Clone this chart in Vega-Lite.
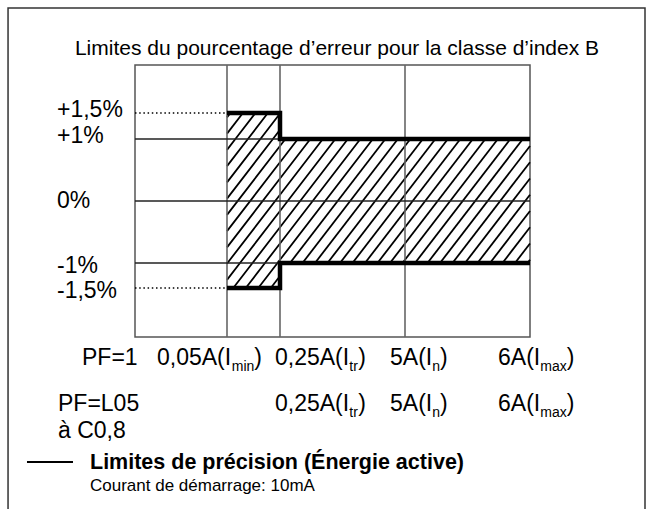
{
  "$schema": "https://vega.github.io/schema/vega-lite/v6.json",
  "width": 395,
  "height": 272,
  "autosize": {"type": "none"},
  "padding": {"left": 135, "top": 65, "right": 122, "bottom": 172},
  "background": "white",
  "config": {
    "view": {"stroke": "#555", "strokeWidth": 1.5},
    "font": "Liberation Sans"
  },
  "datasets": {
    "frame": [{"u": -1.38, "u2": 4.92, "pct": 3.031, "pct2": -4.814}],
    "title": [{"t": "Limites du pourcentage d’erreur pour la classe d’index B", "u": 2.456, "pct": 2.346}],
    "vgrid": [
      {"u": 1, "u2": 1, "pct": -2.2, "pct2": 2.2},
      {"u": 2, "u2": 2, "pct": -2.2, "pct2": 2.2},
      {"u": 3, "u2": 3, "pct": -2.2, "pct2": 2.2}
    ],
    "hgrid": [
      {"u": 0, "u2": 4, "pct": 1, "pct2": 1},
      {"u": 0, "u2": 4, "pct": 0, "pct2": 0},
      {"u": 0, "u2": 4, "pct": -1, "pct2": -1}
    ],
    "dotted": [
      {"u": 0, "u2": 1, "pct": 1.5, "pct2": 1.5},
      {"u": 0, "u2": 1, "pct": -1.5, "pct2": -1.5}
    ],
    "limits": [
      {"side": "up", "o": 1, "u": 1, "pct": 1.5},
      {"side": "up", "o": 2, "u": 2, "pct": 1.5},
      {"side": "up", "o": 3, "u": 2, "pct": 1},
      {"side": "up", "o": 4, "u": 4, "pct": 1},
      {"side": "low", "o": 1, "u": 1, "pct": -1.5},
      {"side": "low", "o": 2, "u": 2, "pct": -1.5},
      {"side": "low", "o": 3, "u": 2, "pct": -1},
      {"side": "low", "o": 4, "u": 4, "pct": -1}
    ],
    "hatch": [
      {"h": "a", "u": 1, "pct": 1.415}, {"h": "a", "u": 1.064, "pct": 1.5},
      {"h": "b", "u": 1, "pct": 1.103}, {"h": "b", "u": 1.3, "pct": 1.5},
      {"h": "c", "u": 1, "pct": 0.824}, {"h": "c", "u": 1.158, "pct": 1}, {"h": "c", "u": 1.535, "pct": 1.5},
      {"h": "d", "u": 1, "pct": 0.562}, {"h": "d", "u": 1.394, "pct": 1}, {"h": "d", "u": 1.771, "pct": 1.5},
      {"h": "e", "u": 1, "pct": 0.3}, {"h": "e", "u": 1.63, "pct": 1}, {"h": "e", "u": 2, "pct": 1.49},
      {"h": "f", "u": 1, "pct": 0.038}, {"h": "f", "u": 1.866, "pct": 1}, {"h": "f", "u": 2, "pct": 1.178},
      {"h": "g", "u": 1, "pct": -0.224}, {"h": "g", "u": 2, "pct": 0.887}, {"h": "g", "u": 2.043, "pct": 1},
      {"h": "h", "u": 1, "pct": -0.486}, {"h": "h", "u": 2, "pct": 0.625}, {"h": "h", "u": 2.143, "pct": 1},
      {"h": "i", "u": 1, "pct": -0.748}, {"h": "i", "u": 2, "pct": 0.363}, {"h": "i", "u": 2.243, "pct": 1},
      {"h": "j", "u": 1, "pct": -1.013}, {"h": "j", "u": 1.009, "pct": -1}, {"h": "j", "u": 2, "pct": 0.101}, {"h": "j", "u": 2.343, "pct": 1},
      {"h": "k", "u": 1, "pct": -1.338}, {"h": "k", "u": 1.245, "pct": -1}, {"h": "k", "u": 2, "pct": -0.161}, {"h": "k", "u": 2.443, "pct": 1},
      {"h": "l", "u": 1.118, "pct": -1.5}, {"h": "l", "u": 1.481, "pct": -1}, {"h": "l", "u": 2, "pct": -0.423}, {"h": "l", "u": 2.543, "pct": 1},
      {"h": "m", "u": 1.354, "pct": -1.5}, {"h": "m", "u": 1.717, "pct": -1}, {"h": "m", "u": 2, "pct": -0.685}, {"h": "m", "u": 2.643, "pct": 1},
      {"h": "n", "u": 1.59, "pct": -1.5}, {"h": "n", "u": 1.953, "pct": -1}, {"h": "n", "u": 2, "pct": -0.948}, {"h": "n", "u": 2.743, "pct": 1},
      {"h": "o", "u": 1.826, "pct": -1.5}, {"h": "o", "u": 2, "pct": -1.26},
      {"h": "p", "u": 2.08, "pct": -1}, {"h": "p", "u": 2.843, "pct": 1},
      {"h": "q", "u": 2.18, "pct": -1}, {"h": "q", "u": 2.943, "pct": 1},
      {"h": "r", "u": 2.28, "pct": -1}, {"h": "r", "u": 3.043, "pct": 1},
      {"h": "s", "u": 2.38, "pct": -1}, {"h": "s", "u": 3.143, "pct": 1},
      {"h": "t", "u": 2.48, "pct": -1}, {"h": "t", "u": 3.243, "pct": 1},
      {"h": "u", "u": 2.58, "pct": -1}, {"h": "u", "u": 3.343, "pct": 1},
      {"h": "v", "u": 2.68, "pct": -1}, {"h": "v", "u": 3.443, "pct": 1},
      {"h": "w", "u": 2.78, "pct": -1}, {"h": "w", "u": 3.543, "pct": 1},
      {"h": "x", "u": 2.88, "pct": -1}, {"h": "x", "u": 3.643, "pct": 1},
      {"h": "y", "u": 2.98, "pct": -1}, {"h": "y", "u": 3.743, "pct": 1},
      {"h": "z", "u": 3.08, "pct": -1}, {"h": "z", "u": 3.843, "pct": 1},
      {"h": "A", "u": 3.18, "pct": -1}, {"h": "A", "u": 3.943, "pct": 1},
      {"h": "B", "u": 3.28, "pct": -1}, {"h": "B", "u": 4, "pct": 0.887},
      {"h": "C", "u": 3.38, "pct": -1}, {"h": "C", "u": 4, "pct": 0.625},
      {"h": "D", "u": 3.48, "pct": -1}, {"h": "D", "u": 4, "pct": 0.363},
      {"h": "E", "u": 3.58, "pct": -1}, {"h": "E", "u": 4, "pct": 0.101},
      {"h": "F", "u": 3.68, "pct": -1}, {"h": "F", "u": 4, "pct": -0.161},
      {"h": "G", "u": 3.78, "pct": -1}, {"h": "G", "u": 4, "pct": -0.423},
      {"h": "H", "u": 3.88, "pct": -1}, {"h": "H", "u": 4, "pct": -0.685},
      {"h": "I", "u": 3.98, "pct": -1}, {"h": "I", "u": 4, "pct": -0.948}
    ],
    "ylabels": [
      {"t": "+1,5%", "u": -0.848, "pct": 1.5, "g": "pos"},
      {"t": "+1%", "u": -0.848, "pct": 1, "g": "pos"},
      {"t": "0%", "u": -0.848, "pct": 0, "g": "zero"},
      {"t": "-1%", "u": -0.848, "pct": -1, "g": "neg"},
      {"t": "-1,5%", "u": -0.848, "pct": -1.5, "g": "neg"}
    ],
    "xlabels": [
      {"t": "PF=1", "u": -0.576, "pct": -2.6, "k": "m"},
      {"t": "0,05A(I", "u": 0.239, "pct": -2.6, "k": "m"},
      {"t": "min", "u": 1.089, "pct": -2.686, "k": "s"},
      {"t": ")", "u": 1.515, "pct": -2.6, "k": "m"},
      {"t": "0,25A(I", "u": 1.906, "pct": -2.6, "k": "m"},
      {"t": "tr", "u": 2.554, "pct": -2.686, "k": "s"},
      {"t": ")", "u": 2.626, "pct": -2.6, "k": "m"},
      {"t": "5A(I", "u": 2.88, "pct": -2.6, "k": "m"},
      {"t": "n", "u": 3.218, "pct": -2.686, "k": "s"},
      {"t": ")", "u": 3.28, "pct": -2.6, "k": "m"},
      {"t": "6A(I", "u": 3.744, "pct": -2.6, "k": "m"},
      {"t": "max", "u": 4.082, "pct": -2.686, "k": "s"},
      {"t": ")", "u": 4.293, "pct": -2.6, "k": "m"},
      {"t": "PF=L05", "u": -0.837, "pct": -3.257, "k": "m"},
      {"t": "0,25A(I", "u": 1.906, "pct": -3.257, "k": "m"},
      {"t": "tr", "u": 2.554, "pct": -3.343, "k": "s"},
      {"t": ")", "u": 2.626, "pct": -3.257, "k": "m"},
      {"t": "5A(I", "u": 2.88, "pct": -3.257, "k": "m"},
      {"t": "n", "u": 3.218, "pct": -3.343, "k": "s"},
      {"t": ")", "u": 3.28, "pct": -3.257, "k": "m"},
      {"t": "6A(I", "u": 3.744, "pct": -3.257, "k": "m"},
      {"t": "max", "u": 4.082, "pct": -3.343, "k": "s"},
      {"t": ")", "u": 4.293, "pct": -3.257, "k": "m"},
      {"t": "à C0,8", "u": -0.837, "pct": -3.643, "k": "m"}
    ],
    "legendline": [{"u": -1.174, "u2": -0.674, "pct": -3.986, "pct2": -3.986}],
    "legendtitle": [{"t": "Limites de précision (Énergie active)", "u": -0.489, "pct": -4.086}],
    "legendnote": [{"t": "Courant de démarrage: 10mA", "u": -0.489, "pct": -4.4}]
  },
  "encoding": {
    "x": {"field": "u", "type": "quantitative", "axis": null,
      "scale": {"domain": [0, 1, 2, 3, 4], "range": [0, 92, 145, 270, 395], "nice": false, "zero": false}},
    "y": {"field": "pct", "type": "quantitative", "axis": null,
      "scale": {"domain": [-2.2, -1.5, -1, 0, 1, 1.5, 2.2], "range": [272, 223, 198, 136, 74, 48, 0], "nice": false, "zero": false}}
  },
  "layer": [
    {
      "data": {"name": "frame"},
      "mark": {"type": "rect", "filled": false, "stroke": "#333", "strokeWidth": 1.5},
      "encoding": {"x2": {"field": "u2"}, "y2": {"field": "pct2"}}
    },
    {
      "data": {"name": "title"},
      "mark": {"type": "text", "align": "center", "baseline": "alphabetic", "fontSize": 21, "color": "black"},
      "encoding": {"text": {"field": "t"}}
    },
    {
      "data": {"name": "hatch"},
      "mark": {"type": "line", "color": "black", "strokeWidth": 1.8},
      "encoding": {"detail": {"field": "h", "type": "nominal"}}
    },
    {
      "data": {"name": "vgrid"},
      "mark": {"type": "rule", "color": "#666", "strokeWidth": 1.6},
      "encoding": {"x2": {"field": "u2"}, "y2": {"field": "pct2"}}
    },
    {
      "data": {"name": "hgrid"},
      "mark": {"type": "rule", "color": "#222", "strokeWidth": 1.3},
      "encoding": {"x2": {"field": "u2"}, "y2": {"field": "pct2"}}
    },
    {
      "data": {"name": "dotted"},
      "mark": {"type": "rule", "color": "black", "strokeWidth": 1.5, "strokeDash": [1.5, 2.7]},
      "encoding": {"x2": {"field": "u2"}, "y2": {"field": "pct2"}}
    },
    {
      "data": {"name": "limits"},
      "mark": {"type": "line", "color": "black", "strokeWidth": 4.5, "strokeJoin": "miter", "strokeCap": "butt"},
      "encoding": {"detail": {"field": "side", "type": "nominal"}, "order": {"field": "o", "type": "quantitative"}}
    },
    {
      "data": {"name": "ylabels"},
      "transform": [{"filter": "datum.g === 'pos'"}],
      "mark": {"type": "text", "align": "left", "baseline": "middle", "fontSize": 23, "color": "black", "dy": -3},
      "encoding": {"text": {"field": "t"}}
    },
    {
      "data": {"name": "ylabels"},
      "transform": [{"filter": "datum.g === 'zero'"}],
      "mark": {"type": "text", "align": "left", "baseline": "middle", "fontSize": 23, "color": "black"},
      "encoding": {"text": {"field": "t"}}
    },
    {
      "data": {"name": "ylabels"},
      "transform": [{"filter": "datum.g === 'neg'"}],
      "mark": {"type": "text", "align": "left", "baseline": "middle", "fontSize": 23, "color": "black", "dy": 3},
      "encoding": {"text": {"field": "t"}}
    },
    {
      "data": {"name": "xlabels"},
      "transform": [{"filter": "datum.k === 'm'"}],
      "mark": {"type": "text", "align": "left", "baseline": "alphabetic", "fontSize": 23, "color": "black"},
      "encoding": {"text": {"field": "t"}}
    },
    {
      "data": {"name": "xlabels"},
      "transform": [{"filter": "datum.k === 's'"}],
      "mark": {"type": "text", "align": "left", "baseline": "alphabetic", "fontSize": 14, "color": "black"},
      "encoding": {"text": {"field": "t"}}
    },
    {
      "data": {"name": "legendline"},
      "mark": {"type": "rule", "color": "black", "strokeWidth": 2},
      "encoding": {"x2": {"field": "u2"}, "y2": {"field": "pct2"}}
    },
    {
      "data": {"name": "legendtitle"},
      "mark": {"type": "text", "align": "left", "baseline": "alphabetic", "fontSize": 21.5, "fontWeight": "bold", "color": "black"},
      "encoding": {"text": {"field": "t"}}
    },
    {
      "data": {"name": "legendnote"},
      "mark": {"type": "text", "align": "left", "baseline": "alphabetic", "fontSize": 17, "color": "black"},
      "encoding": {"text": {"field": "t"}}
    }
  ]
}
